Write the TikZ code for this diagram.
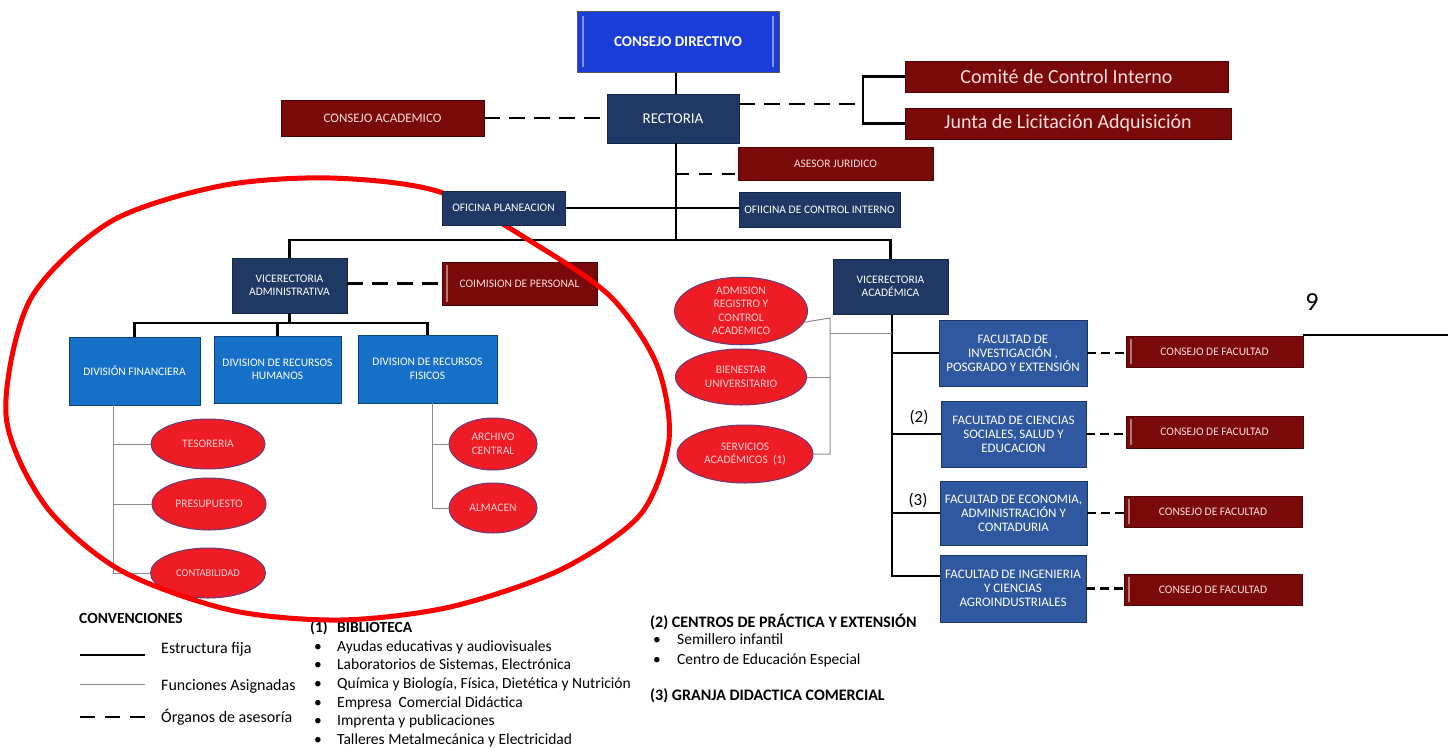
\documentclass[tikz,border=0pt]{standalone}
\usepackage{fontspec}
\setmainfont{Carlito}
\usetikzlibrary{shapes.geometric}

\definecolor{navyC}{RGB}{31,56,100}
\definecolor{dredC}{RGB}{122,10,10}
\definecolor{cdBlue}{RGB}{26,60,215}
\definecolor{divBlue}{RGB}{22,112,200}
\definecolor{facBlue}{RGB}{47,88,160}
\definecolor{ovalRed}{RGB}{238,28,36}
\definecolor{ovalEdge}{RGB}{100,60,120}
\definecolor{ovalText}{RGB}{255,205,205}
\definecolor{pinkT}{RGB}{255,220,220}
\definecolor{funcGray}{RGB}{140,140,140}
\definecolor{markRed}{RGB}{250,0,0}

\newcommand\fsz[2]{\fontsize{#1}{#2}\selectfont}

\tikzset{
  box/.style={rectangle, align=center, inner sep=1pt, line width=0.8pt, font=\fsz{11.5}{13.5}},
  navybox/.style={box, fill=navyC, draw=navyC!70!black, text=white},
  redbox/.style={box, fill=dredC, draw=dredC!60!black, text=pinkT},
  divbox/.style={box, fill=divBlue, draw=divBlue!60!black, text=white},
  facbox/.style={box, fill=facBlue, draw=facBlue!60!black, text=white, font=\fsz{13}{14}},
  oval/.style={ellipse, fill=ovalRed, draw=ovalEdge, line width=1pt, inner sep=0pt,
    align=center, text=ovalText, font=\fsz{11.5}{13.4}},
  bevel/.style={path picture={
    \draw[#1, line width=1.2pt]
      ([xshift=5pt,yshift=-3pt]path picture bounding box.north west) --
      ([xshift=5pt,yshift=3pt]path picture bounding box.south west);}},
  estructura/.style={line width=2.8pt, black},
  funciones/.style={line width=1pt, funcGray},
  asesoria/.style={line width=2.8pt, black, dash pattern=on 16pt off 9pt},
  shortdash/.style={line width=2.8pt, black, dash pattern=on 9pt off 5pt},
  legendtext/.style={anchor=west, inner sep=0pt, font=\fsz{16}{18}},
}

\begin{document}
\begin{tikzpicture}[x=1pt, y=-1pt]
\useasboundingbox (0,0) rectangle (1448,747);
\fill[white] (0,0) rectangle (1448,747);

% ---------- top management ----------
\node[box, fill=cdBlue, draw=black!65, line width=1pt, text=white,
      font=\bfseries\fsz{15}{17}, minimum width=202, minimum height=61,
      path picture={
        \draw[cdBlue!55!white, line width=1.5pt]
          ([xshift=6pt,yshift=-5pt]path picture bounding box.north west) --
          ([xshift=6pt,yshift=5pt]path picture bounding box.south west);
        \draw[cdBlue!55!white, line width=1.5pt]
          ([xshift=-6pt,yshift=-5pt]path picture bounding box.north east) --
          ([xshift=-6pt,yshift=5pt]path picture bounding box.south east);}]
      (cd) at (678,41.5) {CONSEJO DIRECTIVO};
\node[navybox, font=\fsz{15}{17}, minimum width=132, minimum height=49] (rect) at (673,118.5) {RECTORIA};
\node[redbox, font=\fsz{13}{15}, minimum width=203, minimum height=36] (cacad) at (382.5,118) {CONSEJO ACADEMICO};
\node[redbox, font=\fsz{20}{22}, minimum width=323, minimum height=31] (comite) at (1066.5,76.5) {Comité de Control Interno};
\node[redbox, font=\fsz{20}{22}, minimum width=326, minimum height=31] (junta) at (1068,123.5) {Junta de Licitación Adquisición};
\node[redbox, minimum width=195, minimum height=33] (asesor) at (835.5,163.5) {ASESOR JURIDICO};
\node[navybox, minimum width=161, minimum height=35] (ofci) at (819.5,209.5) {OFIICINA DE CONTROL INTERNO};

% ---------- administrative branch ----------
\node[navybox, minimum width=115, minimum height=55] (va) at (289.5,285.5) {VICERECTORIA\\ADMINISTRATIVA};
\node[redbox, bevel=dredC!55!white, minimum width=155, minimum height=43] (cper) at (519.5,283.5) {COIMISION DE PERSONAL};
\node[divbox, minimum width=131, minimum height=68] (dfin) at (134.5,371) {DIVISIÓN FINANCIERA};
\node[divbox, minimum width=127, minimum height=67] (drh) at (277.5,369.5) {DIVISION DE RECURSOS\\HUMANOS};
\node[divbox, minimum width=139, minimum height=68] (drf) at (427.5,369) {DIVISION DE RECURSOS\\FISICOS};

\node[oval, minimum width=114, minimum height=50] (tes) at (208,444) {TESORERIA};
\node[oval, minimum width=114, minimum height=52] (pres) at (209,504) {PRESUPUESTO};
\node[oval, font=\fsz{10.5}{12}, minimum width=115, minimum height=50] (cont) at (208,573) {CONTABILIDAD};
\node[oval, minimum width=88, minimum height=52] (arch) at (493,444) {ARCHIVO\\CENTRAL};
\node[oval, minimum width=88, minimum height=50] (alm) at (493,508) {ALMACEN};

% ---------- academic branch ----------
\node[navybox, minimum width=115, minimum height=55] (vac) at (890.5,286.5) {VICERECTORIA\\ACADÉMICA};
\node[oval, minimum width=133, minimum height=58] (adm) at (741,311) {ADMISION\\REGISTRO Y\\CONTROL\\ACADEMICO};
\node[oval, minimum width=131, minimum height=56] (bien) at (741,377) {BIENESTAR\\UNIVERSITARIO};
\node[oval, minimum width=136, minimum height=58] (serv) at (745,454) {SERVICIOS\\ACADÉMICOS\ \ (1)};

\node[facbox, minimum width=148, minimum height=66] (f1) at (1013,353) {FACULTAD DE\\INVESTIGACIÓN ,\\POSGRADO Y EXTENSIÓN};
\node[facbox, minimum width=145, minimum height=66] (f2) at (1013.5,434) {FACULTAD DE CIENCIAS\\SOCIALES, SALUD Y\\EDUCACION};
\node[facbox, minimum width=147, minimum height=64] (f3) at (1013.5,513) {FACULTAD DE ECONOMIA,\\ADMINISTRACIÓN Y\\CONTADURIA};
\node[facbox, minimum width=146, minimum height=67] (f4) at (1013,588.5) {FACULTAD DE INGENIERIA\\Y CIENCIAS\\AGROINDUSTRIALES};

\node[redbox, bevel=dredC!55!white, minimum width=177, minimum height=31] (c1) at (1214.5,351.5) {CONSEJO DE FACULTAD};
\node[redbox, bevel=dredC!55!white, minimum width=177, minimum height=32] (c2) at (1214.5,432) {CONSEJO DE FACULTAD};
\node[redbox, bevel=dredC!55!white, minimum width=178, minimum height=31] (c3) at (1213,511.5) {CONSEJO DE FACULTAD};
\node[redbox, bevel=dredC!55!white, minimum width=178, minimum height=31] (c4) at (1213,589.5) {CONSEJO DE FACULTAD};

\node[font=\fsz{17}{19}, inner sep=0pt] (n2) at (919,417) {(2)};
\node[font=\fsz{17}{19}, inner sep=0pt] (n3) at (918,500) {(3)};

% ---------- connectors: fixed structure ----------
\coordinate (tx) at (676,0);
\coordinate (bar) at (676,240);
\draw[estructura] (cd.south -| tx) -- (rect.north -| tx);
\draw[estructura] (rect.south -| tx) -- (bar);
\draw[estructura] (va.north) |- (bar) -| (vac.north);

\coordinate (bk) at (863,104);
\draw[estructura] (comite.west) -| (bk) |- (junta.west);

\coordinate (vab) at (291,323);
\draw[estructura] (va.south) -- (va.south |- vab);
\draw[estructura] (dfin.north) |- (vab) -| (drf.north);
\draw[estructura] (drh.north) -- (drh.north |- vab);

\coordinate (ax) at (892,314);
\coordinate (axb) at (892,576);
\draw[estructura] (ax) -- (axb) -- (axb -| f4.west);
\draw[estructura] (ax |- f1.west) -- (f1.west);
\draw[estructura] (ax |- f2.west) -- (f2.west);
\draw[estructura] (ax |- f3.west) -- (f3.west);

% ---------- connectors: assigned functions ----------
\coordinate (fx) at (113,405);
\draw[funciones] (fx) |- (cont.west);
\draw[funciones] (fx |- tes.west) -- (tes.west);
\draw[funciones] (fx |- pres.west) -- (pres.west);

\coordinate (rx) at (432,403);
\draw[funciones] (rx) |- (alm.west);
\draw[funciones] (rx |- arch.west) -- (arch.west);

\coordinate (mx) at (830,318);
\coordinate (mh) at (830,333);
\draw[funciones] (adm.-10) -- (mx) -- (mx |- serv.east) -- (serv.east);
\draw[funciones] (bien.east) -- (bien.east -| mx);
\draw[funciones] (mh) -- (mh -| ax);

% ---------- connectors: advisory bodies ----------
\draw[asesoria] (cacad.east) -- (cacad.east -| rect.west);
\coordinate (rE) at (739,104);
\coordinate (rEnd) at (857,104);
\draw[asesoria] (rE) -- (rEnd);
\coordinate (jAs) at (676,174);
\draw[asesoria, dash pattern=on 13pt off 10pt] (jAs) -- (jAs -| asesor.west);
\draw[asesoria] (va.east |- cper.west) -- (cper.west);
\draw[shortdash] (f1.east) -- (f1.east -| c1.west);
\draw[shortdash] (f2.east) -- (f2.east -| c2.west);
\draw[shortdash] (f3.east) -- (f3.east -| c3.west);
\draw[shortdash] (f4.east) -- (f4.east -| c4.west);

% ---------- page number and rule ----------
\node[font=\fsz{26}{28}, inner sep=0pt] (pg) at (1312,302) {9};
\coordinate (ruleA) at (1303,335);
\coordinate (ruleB) at (1448,335);
\draw[line width=1.5pt] (ruleA) -- (ruleB);

% ---------- legend ----------
\node[anchor=west, inner sep=0pt, font=\bfseries\fsz{15.5}{18}] (conv) at (79,618) {CONVENCIONES};
\coordinate (la1) at (80,655);  \coordinate (lb1) at (145,655);
\coordinate (la2) at (80,684);  \coordinate (lb2) at (145,684);
\coordinate (la3) at (80,717);  \coordinate (lb3) at (145,717);
\draw[estructura] (la1) -- (lb1);
\draw[funciones] (la2) -- (lb2);
\draw[asesoria, dash pattern=on 15pt off 10pt] (la3) -- (lb3);
\node[legendtext] (lt1) at (161,649) {Estructura fija};
\node[legendtext] (lt2) at (161,686) {Funciones Asignadas};
\node[legendtext] (lt3) at (161,717) {Órganos de asesoría};

\node[anchor=west, inner sep=0pt, align=left, font=\fsz{15.5}{18.6}] (bib) at (310,684)
  {\textbf{\makebox[27pt][l]{(1)}BIBLIOTECA}\\
   \makebox[27pt][l]{\hspace{4pt}•}Ayudas educativas y audiovisuales\\
   \makebox[27pt][l]{\hspace{4pt}•}Laboratorios de Sistemas, Electrónica\\
   \makebox[27pt][l]{\hspace{4pt}•}Química y Biología, Física, Dietética y Nutrición\\
   \makebox[27pt][l]{\hspace{4pt}•}Empresa\ \ Comercial Didáctica\\
   \makebox[27pt][l]{\hspace{4pt}•}Imprenta y publicaciones\\
   \makebox[27pt][l]{\hspace{4pt}•}Talleres Metalmecánica y Electricidad};

\node[anchor=west, inner sep=0pt, font=\bfseries\fsz{16}{18}] (cp) at (650,622) {(2) CENTROS DE PRÁCTICA Y EXTENSIÓN};
\node[anchor=north west, inner sep=0pt, align=left, font=\fsz{15.5}{19.5}] (cpl) at (650,634)
  {\makebox[27pt][l]{\hspace{3pt}•}Semillero infantil\\
   \makebox[27pt][l]{\hspace{3pt}•}Centro de Educación Especial};
\node[anchor=west, inner sep=0pt, font=\bfseries\fsz{16}{18}] (gr) at (650,696) {(3) GRANJA DIDACTICA COMERCIAL};

% ---------- hand-drawn red outline around the administrative area ----------
\draw[markRed, line width=5pt] plot[smooth cycle, tension=0.5] coordinates {
  (6,415) (30,300) (110,222) (220,186) (330,178) (440,192) (540,247)
  (612,298) (657,365) (669,440) (640,515) (560,570) (450,607) (340,620)
  (230,610) (120,570) (45,505)};

% planning office sits above the outline
\node[navybox, minimum width=123, minimum height=34] (ofplan) at (503.5,208) {OFICINA PLANEACION};
\draw[estructura] (ofplan.east) -- (ofplan.east -| ofci.west);

\end{tikzpicture}
\end{document}
